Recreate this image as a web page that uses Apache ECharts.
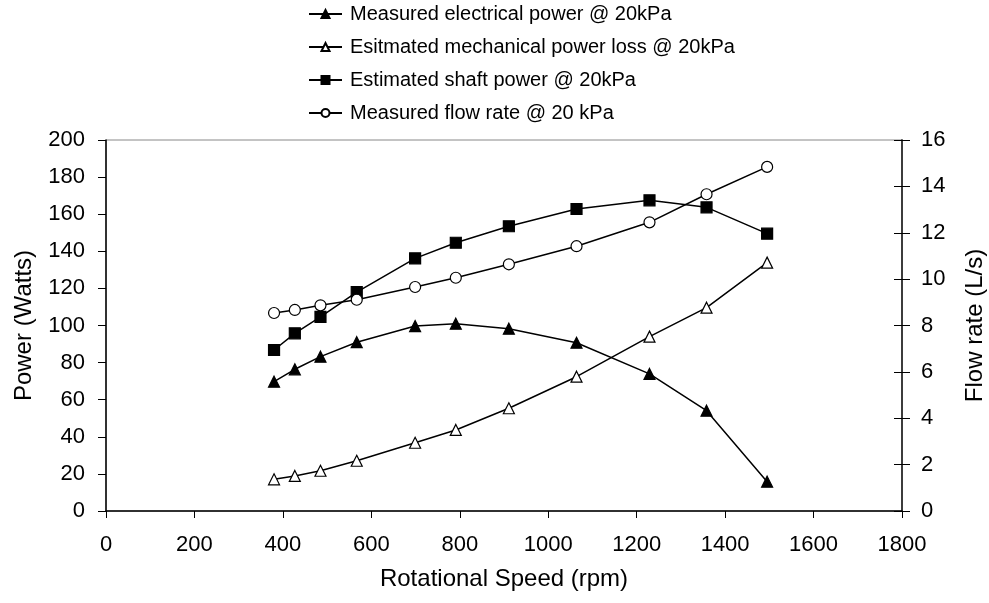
<!DOCTYPE html>
<html>
<head>
<meta charset="utf-8">
<script src="https://cdn.jsdelivr.net/npm/echarts@6/dist/echarts.min.js"></script>
<style>html,body{margin:0;padding:0;background:#fff}#c{width:989px;height:603px}</style>
</head>
<body>
<div id="c"></div>
<script>
const speed = [380, 427, 485, 567, 699, 791, 911, 1064, 1229, 1358, 1495];
const electricalPower = [69.7, 76.4, 83.2, 91.0, 99.7, 101.0, 98.3, 90.7, 73.9, 54.1, 15.8];
const mechanicalLoss = [17.1, 18.9, 21.7, 27.1, 36.8, 43.7, 55.4, 72.4, 94.0, 109.6, 133.9];
const shaftPower = [86.8, 95.8, 104.7, 118.0, 136.2, 144.6, 153.5, 162.8, 167.5, 163.7, 149.5];
const flowRate = [8.54, 8.67, 8.87, 9.11, 9.66, 10.06, 10.64, 11.42, 12.45, 13.66, 14.84];
const seriesNames = [
  'Measured electrical power @ 20kPa',
  'Esitmated mechanical power loss @ 20kPa',
  'Estimated shaft power @ 20kPa',
  'Measured flow rate @ 20 kPa'
];

const FONT = 'Liberation Sans, Arial, sans-serif';
function pairs(ys) { return speed.map((x, i) => [x, ys[i]]); }
function mk(name, data, symbol, filled, yIdx) {
  return {
    name, type: 'line', data: pairs(data), yAxisIndex: yIdx,
    symbol, symbolSize: 11,
    showSymbol: true,
    lineStyle: { color: '#000', width: 1.5 },
    itemStyle: { color: filled ? '#000' : '#fff', borderColor: '#000', borderWidth: 1.2 },
    emphasis: { disabled: true },
    animation: false, z: 3
  };
}
const chart = echarts.init(document.getElementById('c'));
chart.setOption({
  backgroundColor: '#fff',
  animation: false,
  textStyle: { fontFamily: FONT, color: '#000' },
  legend: {
    orient: 'vertical', left: 308, top: 4, padding: 0, itemGap: 13, itemWidth: 33, itemHeight: 10,
    textStyle: { fontFamily: FONT, fontSize: 20, color: '#000', padding: [0, 0, 0, 3] },
    data: seriesNames
  },
  grid: { left: 106, right: 87, top: 140, bottom: 92, containLabel: false, outerBoundsMode: 'none',
          show: true, borderColor: '#888', borderWidth: 1 },
  xAxis: {
    type: 'value', min: 0, max: 1800, interval: 200,
    name: 'Rotational Speed (rpm)', nameLocation: 'middle', nameGap: 56,
    nameTextStyle: { fontSize: 24, color: '#000', fontFamily: FONT },
    axisLine: { lineStyle: { color: '#000', width: 1.5 } },
    axisTick: { show: true, length: 7, lineStyle: { color: '#000' } },
    axisLabel: { fontSize: 22, color: '#000', margin: 23, fontFamily: FONT, formatter: v => String(v) },
    splitLine: { show: false }
  },
  yAxis: [{
    type: 'value', min: 0, max: 200, interval: 20, position: 'left',
    name: 'Power (Watts)', nameLocation: 'middle', nameGap: 70,
    nameTextStyle: { fontSize: 24, color: '#000', fontFamily: FONT },
    axisLine: { show: true, lineStyle: { color: '#000', width: 1.5 } },
    axisTick: { show: true, length: 8, lineStyle: { color: '#000' } },
    axisLabel: { fontSize: 22, color: '#000', margin: 21, fontFamily: FONT },
    splitLine: { show: false }
  }, {
    type: 'value', min: 0, max: 16, interval: 2, position: 'right',
    name: 'Flow rate (L/s)', nameLocation: 'middle', nameGap: 61,
    nameTextStyle: { fontSize: 24, color: '#000', fontFamily: FONT },
    axisLine: { show: true, lineStyle: { color: '#333', width: 1.5 } },
    axisTick: { show: true, length: 8, lineStyle: { color: '#000' } },
    axisLabel: { fontSize: 22, color: '#000', margin: 19, fontFamily: FONT },
    splitLine: { show: false }
  }, {
    type: 'value', min: 0, max: 16, interval: 2, position: 'right',
    axisLine: { show: true, lineStyle: { color: '#333', width: 1.5 } },
    axisTick: { show: true, inside: true, length: 8, lineStyle: { color: '#000' } },
    axisLabel: { show: false },
    splitLine: { show: false }
  }],
  series: [
    mk(seriesNames[0], electricalPower, 'triangle', true, 0),
    mk(seriesNames[1], mechanicalLoss, 'triangle', false, 0),
    mk(seriesNames[2], shaftPower, 'rect', true, 0),
    mk(seriesNames[3], flowRate, 'circle', false, 1)
  ]
});
</script>
</body>
</html>
